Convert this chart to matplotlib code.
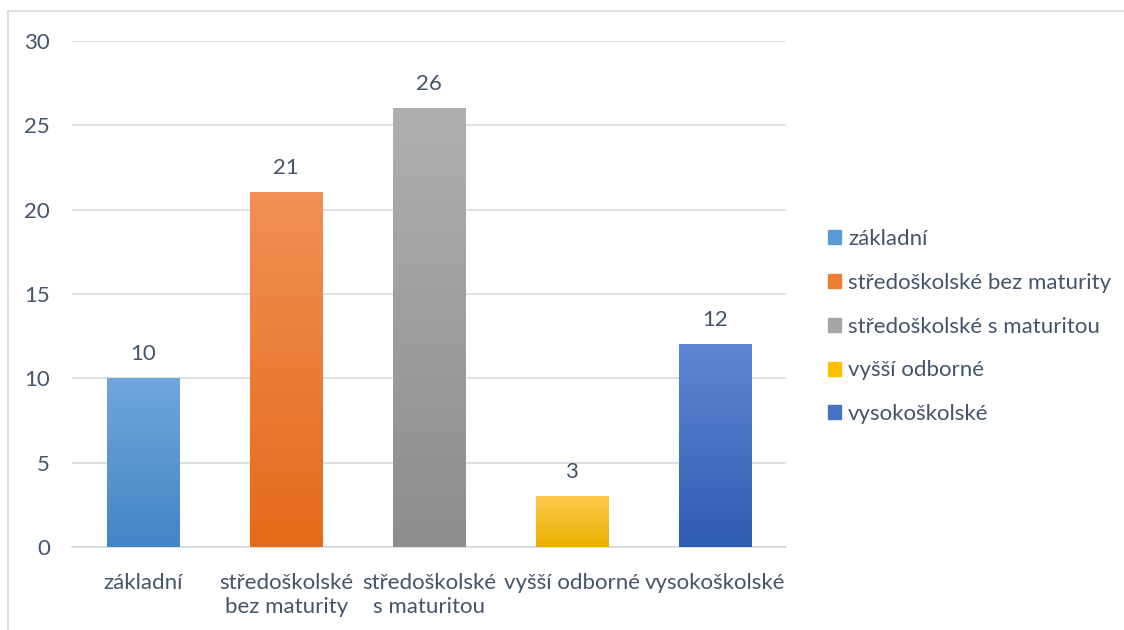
import numpy as np
import matplotlib
matplotlib.use('Agg')
import matplotlib.pyplot as plt
from matplotlib.colors import LinearSegmentedColormap
from matplotlib.lines import Line2D

plt.rcParams['font.family'] = ['Lato', 'DejaVu Sans']

# data
categories = ['základní', 'středoškolské bez maturity', 'středoškolské s maturitou',
              'vyšší odborné', 'vysokoškolské']
tickLabels = ['základní', 'středoškolské\nbez maturity', 'středoškolské\ns maturitou',
              'vyšší odborné', 'vysokoškolské']
values = [10, 21, 26, 3, 12]

# gradient colours (top, bottom) for each bar
topColors = ['#72a6dd', '#f38f55', '#afafaf', '#ffc84c', '#5f86d1']
bottomColors = ['#4284c6', '#e46b19', '#8d8d8d', '#e9b000', '#2f5db3']
midColors = ['#5b9bd5', '#ed7d31', '#a5a5a5', '#ffc000', '#4472c4']

textColor = '#44546a'
gridColor = '#d9dde3'
fs = 16

fig = plt.figure(figsize=(11.24, 6.30), dpi=100)
ax = fig.add_axes([72 / 1124, 1 - 547 / 630, (786 - 72) / 1124, (547 - 41) / 630])

x = np.arange(len(values))
barWidth = 0.505
bars = ax.bar(x, values, width=barWidth, color=midColors, zorder=2)

# gradient fill over each bar
for i, b in enumerate(bars):
    cmap = LinearSegmentedColormap.from_list('g%d' % i, [bottomColors[i], topColors[i]])
    grad = np.linspace(0, 1, 256).reshape(-1, 1)
    x0 = b.get_x()
    ax.imshow(grad, cmap=cmap, origin='lower', aspect='auto',
              extent=[x0, x0 + b.get_width(), 0, b.get_height()], zorder=3)
    ax.text(b.get_x() + b.get_width() / 2, b.get_height() + 1.45, str(values[i]),
            ha='center', va='center', fontsize=fs, color=textColor, zorder=4)

ax.set_xlim(-0.5, len(values) - 0.5)
ax.set_ylim(0, 30)
ax.set_yticks(np.arange(0, 31, 5))
ax.set_xticks(x)
ax.set_xticklabels(tickLabels, fontsize=fs, color=textColor, linespacing=1.2)
ax.tick_params(axis='y', length=0, labelsize=fs, labelcolor=textColor, pad=16)
ax.tick_params(axis='x', length=0, pad=19)
ax.yaxis.grid(True, color=gridColor, linewidth=1.3, zorder=0)
ax.set_axisbelow(True)
for s in ['top', 'right', 'left']:
    ax.spines[s].set_visible(False)
ax.spines['bottom'].set_color(gridColor)
ax.spines['bottom'].set_linewidth(1.3)

# legend
handles = [plt.Rectangle((0, 0), 1, 1, color=c) for c in midColors]
leg = fig.legend(handles, categories, loc='upper left',
                 bbox_to_anchor=(817 / 1124, 1 - 218 / 630), frameon=False,
                 fontsize=fs, labelspacing=1.07, handlelength=0.6, handleheight=0.6,
                 handletextpad=0.3, borderpad=0)
for t in leg.get_texts():
    t.set_color(textColor)

# chart area border (top and left)
fig.add_artist(Line2D([8 / 1124, 1], [1 - 11 / 630, 1 - 11 / 630], color=gridColor, linewidth=1.3))
fig.add_artist(Line2D([8 / 1124, 8 / 1124], [0, 1 - 11 / 630], color=gridColor, linewidth=1.3))

fig.savefig('out.png', dpi=100)
